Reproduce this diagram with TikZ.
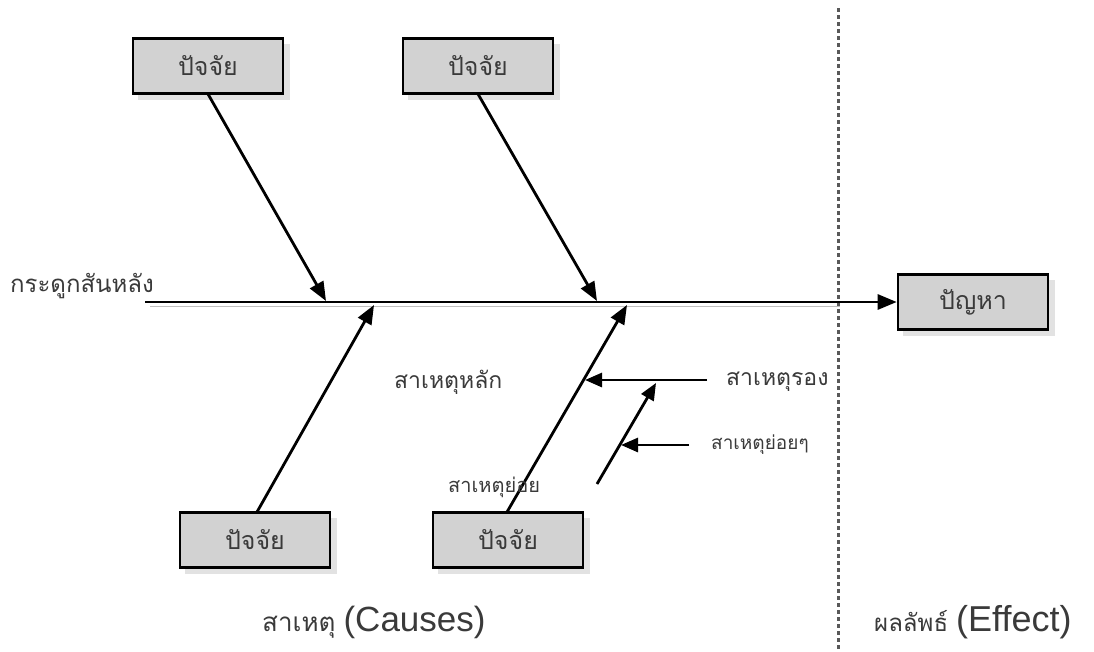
\documentclass[tikz,border=0pt]{standalone}
\usepackage{fontspec}
\setmainfont{Liberation Sans}
\newfontfamily\thai[Script=Thai]{Loma}
\usetikzlibrary{arrows.meta}
\definecolor{txt}{HTML}{3A3A3A}
\definecolor{boxfill}{HTML}{D2D2D2}
\definecolor{shadow}{HTML}{E2E2E2}
\tikzset{
  fbox/.style={draw=black, line width=2.6pt, fill=boxfill, minimum width=150pt, minimum height=55pt, inner sep=0pt, font=\thai\fontsize{25}{28}\selectfont, text=txt},
  lbl/.style={font=\thai\fontsize{23}{26}\selectfont, text=txt, inner sep=0pt},
  small/.style={font=\thai\fontsize{19}{22}\selectfont, text=txt, inner sep=0pt},
  arr/.style={line width=2.8pt, -{Triangle[length=19pt,width=15pt]}},
  sarr/.style={line width=2.8pt, -{Triangle[length=17pt,width=14pt]}},
}
\begin{document}
\begin{tikzpicture}[x=1pt,y=-1pt]
\useasboundingbox (0,0) rectangle (1094,651);
% shadows
\foreach \cx/\cy in {208/66, 478/66, 255/540, 508/540, 973/302}
  \fill[shadow] (\cx-70,\cy-22) rectangle (\cx+82,\cy+34);
% boxes
\node[fbox] (f1) at (208,66) {ปัจจัย};
\node[fbox] (f2) at (478,66) {ปัจจัย};
\node[fbox] (f3) at (255,540) {ปัจจัย};
\node[fbox] (f4) at (508,540) {ปัจจัย};
\node[fbox] (prob) at (973,302) {ปัญหา};
% divider
\coordinate (dtop) at (838,8);
\coordinate (dbot) at (838,651);
\draw[line width=3pt, draw=black!65, dash pattern=on 4pt off 3pt] (dtop) -- (dbot);
% spine
\coordinate (s0) at (145,302);
\coordinate (s0b) at (150,306.5);
\coordinate (s1b) at (840,306.5);
\draw[line width=1pt, draw=black!25] (s0b) -- (s1b);
\draw[arr] (s0) -- (prob.west);
\node[lbl, font=\thai\fontsize{24}{26}\selectfont, anchor=west] (spl) at (10,286) {กระดูกสันหลัง};
% main bones
\coordinate (t1) at (326,301);
\coordinate (t2) at (597,301);
\coordinate (t3) at (374,305);
\coordinate (t4) at (627,305);
\coordinate (b1) at (208,94);
\coordinate (b2) at (478,94);
\coordinate (b3) at (257,512);
\coordinate (b4) at (507,512);
\draw[arr] (b1) -- (t1);
\draw[arr] (b2) -- (t2);
\draw[arr] (b3) -- (t3);
\draw[arr] (b4) -- (t4);
% secondary causes
\coordinate (h1s) at (707,380);
\coordinate (h1e) at (585,380);
\draw[sarr] (h1s) -- (h1e);
\coordinate (d1s) at (597,484);
\coordinate (d1e) at (656,383);
\draw[sarr] (d1s) -- (d1e);
\coordinate (h2s) at (689,445);
\coordinate (h2e) at (621,445);
\draw[sarr] (h2s) -- (h2e);
% labels
\node[lbl, anchor=west] (lrong) at (726,382) {สาเหตุรอง};
\node[small, anchor=west] (lyoiyoi) at (711,445) {สาเหตุย่อยๆ};
\node[lbl, anchor=west] (llak) at (394,382) {สาเหตุหลัก};
\node[small, font=\thai\fontsize{20}{22}\selectfont, anchor=west] (lyoi) at (448,487) {สาเหตุย่อย};
\node[inner sep=0pt, text=txt, anchor=west] (causes) at (262,622) {{\thai\fontsize{26}{30}\selectfont สาเหตุ}\hspace{8pt}{\fontsize{35}{40}\selectfont (Causes)}};
\node[inner sep=0pt, text=txt, anchor=west] (effect) at (874,622) {{\thai\fontsize{24}{26}\selectfont ผลลัพธ์}\hspace{8pt}{\fontsize{36}{40}\selectfont (Effect)}};
\end{tikzpicture}
\end{document}
